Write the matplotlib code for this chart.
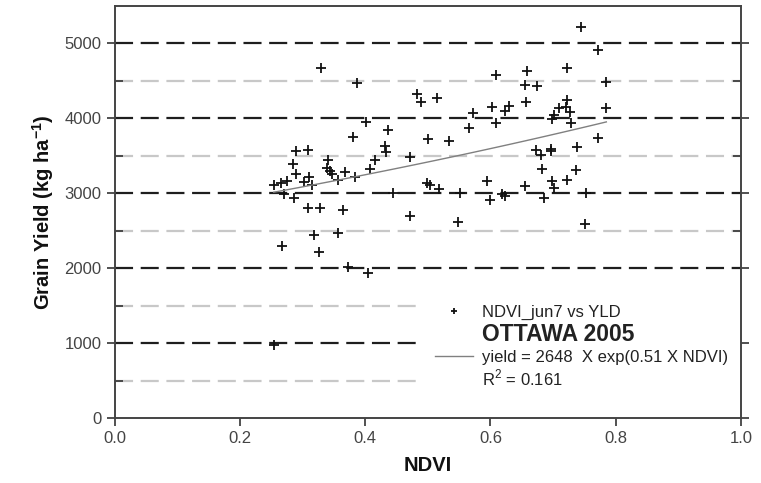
import numpy as np
import matplotlib
matplotlib.use("Agg")
import matplotlib.pyplot as plt
from matplotlib.lines import Line2D

plt.rcParams['font.family'] = ['Liberation Sans', 'DejaVu Sans']
plt.rcParams['mathtext.fontset'] = 'custom'
plt.rcParams['mathtext.rm'] = 'Liberation Sans'
plt.rcParams['mathtext.bf'] = 'Liberation Sans:bold'
plt.rcParams['lines.scale_dashes'] = False

# NDVI (June 7) and grain yield, Ottawa 2005
ndvi = [0.255, 0.254, 0.265, 0.275, 0.270, 0.286, 0.267, 0.284, 0.289, 0.289,
        0.308, 0.303, 0.311, 0.315, 0.308, 0.328, 0.318, 0.326, 0.330, 0.340,
        0.339, 0.343, 0.347, 0.356, 0.357, 0.364, 0.368, 0.373, 0.381, 0.383,
        0.387, 0.401, 0.404, 0.407, 0.416, 0.436, 0.432, 0.433, 0.445, 0.471,
        0.471, 0.483, 0.489, 0.515, 0.500, 0.498, 0.503, 0.518, 0.533, 0.548,
        0.551, 0.566, 0.572, 0.609, 0.603, 0.609, 0.595, 0.599, 0.619, 0.624,
        0.624, 0.630, 0.655, 0.674, 0.659, 0.657, 0.655, 0.672, 0.680, 0.696,
        0.697, 0.683, 0.686, 0.698, 0.702, 0.723, 0.723, 0.720, 0.709, 0.727,
        0.701, 0.698, 0.728, 0.723, 0.738, 0.737, 0.745, 0.772, 0.785, 0.784,
        0.772, 0.752, 0.751]
yld = [977, 3111, 3131, 3164, 2987, 2933, 2291, 3395, 3257, 3564,
       3581, 3151, 3211, 3108, 2804, 2804, 2444, 2211, 4675, 3444,
       3333, 3301, 3261, 3177, 2467, 2777, 3288, 2017, 3755, 3221,
       4467, 3948, 1933, 3328, 3440, 3841, 3635, 3544, 3004, 2697,
       3484, 4324, 4217, 4267, 3728, 3141, 3104, 3053, 3693, 2621,
       3007, 3867, 4071, 4577, 4155, 3933, 3164, 2915, 2995, 2964,
       4097, 4168, 4444, 4437, 4631, 4221, 3091, 3583, 3504, 3564,
       3591, 3324, 2941, 3168, 3075, 4667, 4244, 4155, 4133, 4088,
       4044, 3991, 3933, 3171, 3611, 3317, 5221, 4911, 4480, 4141,
       3733, 3000, 2587]

# fitted model: yield = a * exp(b * NDVI)
fit_a = 2648
fit_b = 0.51
r_squared = 0.161

fig = plt.figure(figsize=(7.61, 4.83), dpi=100)
ax = fig.add_axes([0.1507, 0.134, 0.8230, 0.854])

ax.set_xlim(0, 1.0)
ax.set_ylim(0, 5500)

# dashed reference lines every 500
for yv in range(500, 5500, 500):
    if yv % 1000 == 0:
        ax.axhline(yv, color='#1e1e1e', lw=1.6, ls=(0, (13, 5.5)), zorder=1)
    else:
        ax.axhline(yv, color='#c8c8c8', lw=1.6, ls=(0, (13, 5.5)), zorder=1)

pts, = ax.plot(ndvi, yld, ls='none', marker='+', ms=7, mew=1.3,
               color='#111111', zorder=3)

xs = np.linspace(min(ndvi), max(ndvi), 100)
fit_line, = ax.plot(xs, fit_a * np.exp(fit_b * xs), color='#808080', lw=1.0, zorder=3)

ax.set_xticks(np.arange(0, 1.01, 0.2))
ax.set_xticklabels(['0.0', '0.2', '0.4', '0.6', '0.8', '1.0'])
ax.set_yticks(range(0, 5001, 1000))
ax.set_yticks(range(500, 5500, 1000), minor=True)
ax.tick_params(axis='both', which='major', direction='out', length=6, width=1.2,
               color='#333333', labelsize=12, labelcolor='#444444')
ax.tick_params(axis='y', which='minor', direction='in', length=6, width=1.2,
               color='#333333', right=True)
ax.tick_params(axis='y', which='major', right=True)
for sp in ax.spines.values():
    sp.set_color('#444444')
    sp.set_linewidth(1.4)
    sp.set_zorder(6)

ax.set_xlabel('NDVI', fontsize=14.5, fontweight='bold', color='#111111', labelpad=7)
ax.set_ylabel(r'Grain Yield (kg ha$^{\mathbf{-1}}$)', fontsize=14.5, fontweight='bold',
              color='#111111', labelpad=6)

blank = Line2D([], [], ls='none')
leg = ax.legend([Line2D([], [], ls='none', marker='+', ms=5, mew=1.3, color='#111111'),
                 blank, fit_line, blank],
                ['NDVI_jun7 vs YLD', 'OTTAWA 2005',
                 'yield = %d  X exp(%.2f X NDVI)' % (fit_a, fit_b),
                 r'R$^2$ = %.3f' % r_squared],
                loc='upper left', bbox_to_anchor=(0.491, 0.0, 0.509, 0.305),
                mode='expand', borderaxespad=0, frameon=True, fancybox=False,
                fontsize=12, handlelength=2.3, handletextpad=0.55,
                labelspacing=0.2, borderpad=0.75)
leg.get_frame().set_facecolor('white')
leg.get_frame().set_edgecolor('none')
leg.get_frame().set_alpha(1)
leg.get_texts()[1].set_fontweight('bold')
leg.get_texts()[1].set_fontsize(16.5)
for t in leg.get_texts():
    t.set_color('#222222')

fig.savefig('out.png', dpi=100)
